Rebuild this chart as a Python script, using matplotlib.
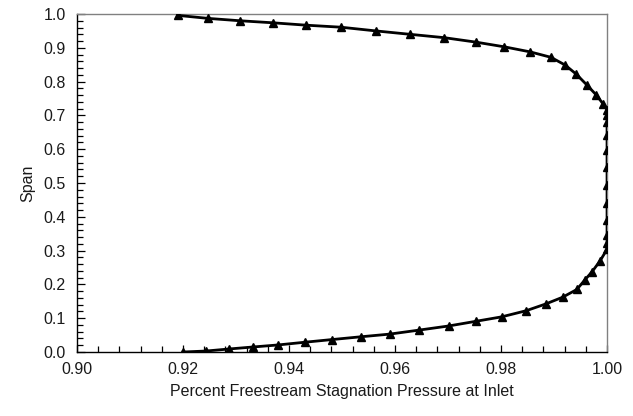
import matplotlib
matplotlib.use("Agg")
import matplotlib.pyplot as plt
from matplotlib.ticker import MultipleLocator, FormatStrFormatter

plt.rcParams['font.family'] = ['Liberation Sans', 'DejaVu Sans']

# Stagnation pressure ratio across the span (hub -> casing)
pressure = [
    0.9200, 0.9244, 0.9287, 0.9333, 0.9380, 0.9430, 0.9482, 0.9535, 0.9590,
    0.9646, 0.9701, 0.9753, 0.9801, 0.9847, 0.9884, 0.9916, 0.9943, 0.9958,
    0.9972, 0.9987, 1.0000, 1.0000, 1.0000, 1.0000, 1.0000, 1.0000, 1.0000,
    1.0000, 1.0000, 1.0000, 1.0000, 1.0000, 0.9993, 0.9980, 0.9962, 0.9942,
    0.9921, 0.9894, 0.9855, 0.9806, 0.9752, 0.9693, 0.9628, 0.9564, 0.9498,
    0.9432, 0.9370, 0.9308, 0.9248, 0.9190,
]
span = [
    0.000, 0.003, 0.009, 0.015, 0.021, 0.029, 0.037, 0.045, 0.053,
    0.065, 0.077, 0.091, 0.104, 0.122, 0.142, 0.162, 0.185, 0.213,
    0.238, 0.270, 0.304, 0.322, 0.346, 0.390, 0.440, 0.494, 0.548,
    0.598, 0.642, 0.681, 0.700, 0.716, 0.733, 0.760, 0.790, 0.822,
    0.849, 0.872, 0.888, 0.903, 0.917, 0.930, 0.940, 0.950, 0.961,
    0.967, 0.974, 0.980, 0.987, 0.996,
]

x_ticks = [0.90, 0.92, 0.94, 0.96, 0.98, 1.00]
y_ticks = [0.0, 0.1, 0.2, 0.3, 0.4, 0.5, 0.6, 0.7, 0.8, 0.9, 1.0]

fig = plt.figure(figsize=(6.33, 4.16), dpi=100)
ax = fig.add_axes([0.1216, 0.1538, 0.8374, 0.8125])

ax.plot(pressure, span, color='black', linewidth=2.0, marker='^',
        markersize=6, markerfacecolor='black', markeredgecolor='black',
        zorder=3)

ax.set_xlim(0.90, 1.00)
ax.set_ylim(0.0, 1.0)
ax.set_xticks(x_ticks)
ax.set_yticks(y_ticks)
ax.xaxis.set_major_formatter(FormatStrFormatter('%.2f'))
ax.yaxis.set_major_formatter(FormatStrFormatter('%.1f'))
ax.xaxis.set_minor_locator(MultipleLocator(0.004))
ax.yaxis.set_minor_locator(MultipleLocator(0.02))

ax.tick_params(axis='both', which='both', direction='in', color='black',
               labelsize=11.5, labelcolor='#1a1a1a')
ax.tick_params(axis='x', which='major', length=5, width=0.9, pad=7)
ax.tick_params(axis='x', which='minor', length=4, width=0.9)
ax.tick_params(axis='y', which='major', length=6, width=0.9, pad=8)
ax.tick_params(axis='y', which='minor', length=4, width=0.9)

for side in ('left', 'bottom'):
    ax.spines[side].set_color('black')
    ax.spines[side].set_linewidth(1.0)
for side in ('top', 'right'):
    ax.spines[side].set_color('#808080')
    ax.spines[side].set_linewidth(1.0)

ax.set_xlabel('Percent Freestream Stagnation Pressure at Inlet',
              fontsize=11.5, color='#1a1a1a', labelpad=5)
ax.set_ylabel('Span', fontsize=11.5, color='#1a1a1a', labelpad=6)

fig.savefig('out.png', dpi=100)
